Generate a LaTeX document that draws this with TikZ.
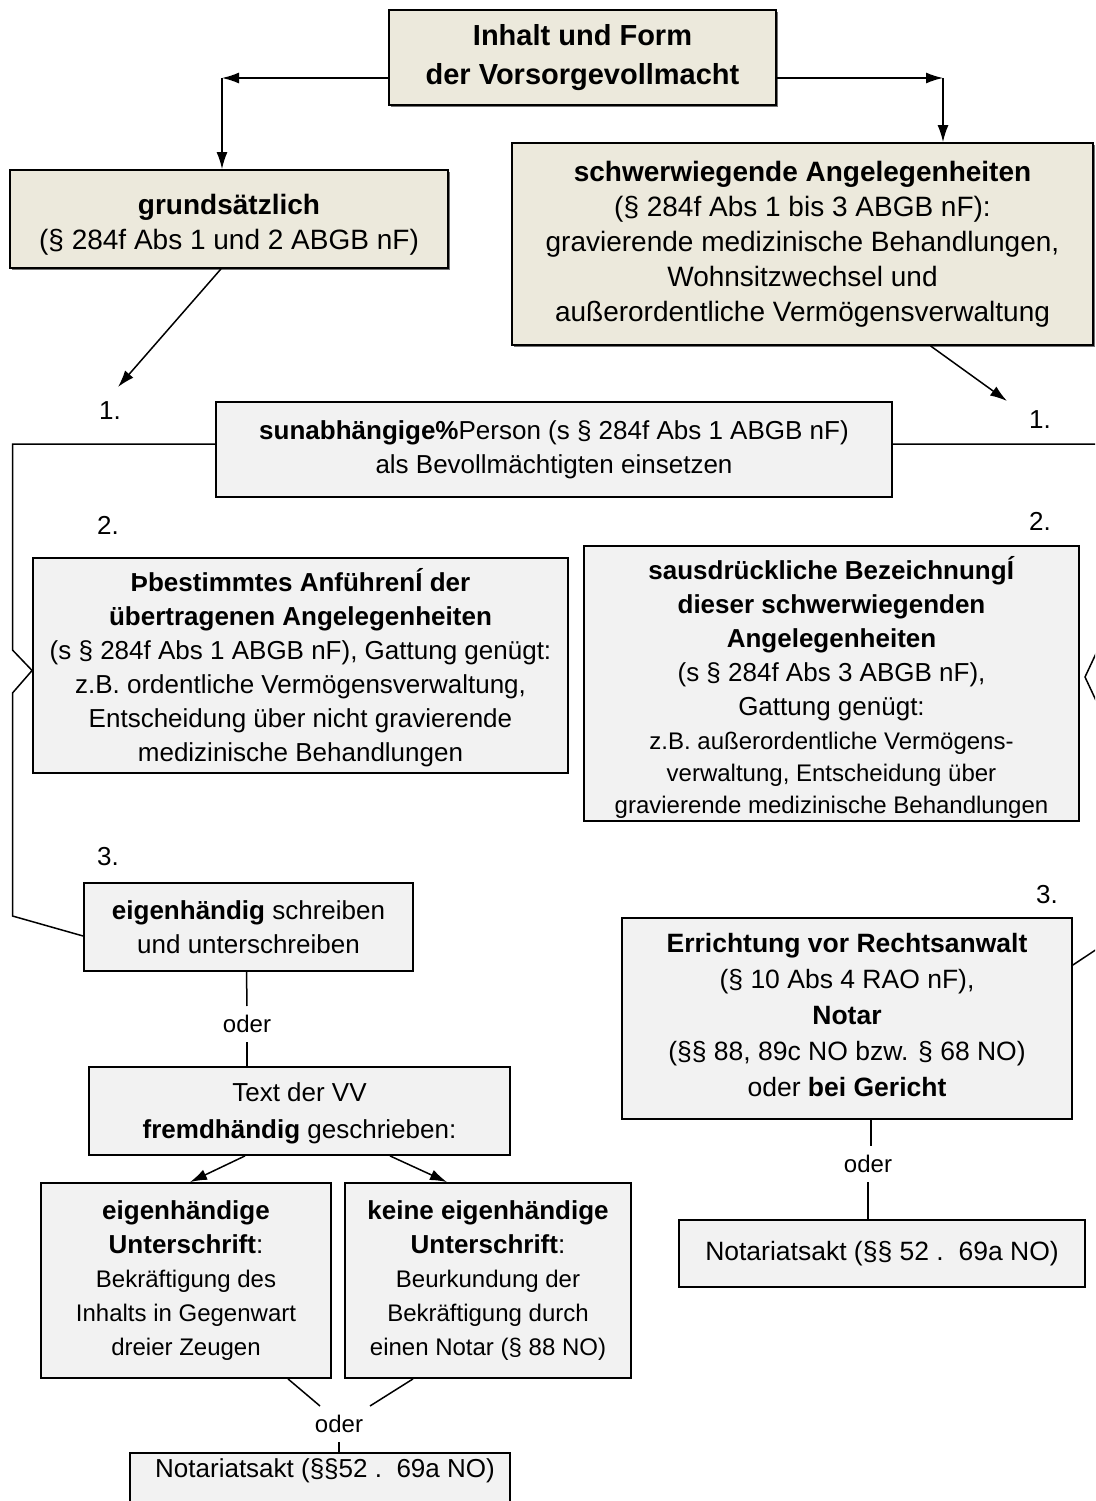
\documentclass[tikz,border=0pt]{standalone}
\usepackage{fontspec}
\setmainfont{Liberation Sans}
\usetikzlibrary{arrows.meta,shadows}
\definecolor{beige}{HTML}{ECE9DC}
\definecolor{lgray}{HTML}{F2F2F2}
\newcommand{\fsBeige}{\fontsize{28}{35}\selectfont}
\newcommand{\fsTop}{\fontsize{29}{39}\selectfont}
\newcommand{\fsGray}{\fontsize{26}{34}\selectfont}
\newcommand{\fsAus}{\fontsize{26}{32}\selectfont}
\newcommand{\fsErr}{\fontsize{26.5}{36}\selectfont}
\newcommand{\fsSmall}{\fontsize{24}{32}\selectfont}
\newcommand{\fsMid}{\fontsize{24}{32}\selectfont}
\begin{document}
\begin{tikzpicture}[x=1pt,y=-1pt,
  box/.style={draw=black, line width=1.8pt, align=center, inner sep=0pt},
  beigebox/.style={box, fill=beige, drop shadow={shadow xshift=1.5pt, shadow yshift=-2pt, fill=black!55, opacity=1}},
  graybox/.style={box, fill=lgray},
  txt/.style={align=center, inner sep=0pt},
  conn/.style={line width=1.5pt},
  arr/.style={conn, -{Latex[length=17pt,width=11pt]}},
  lbl/.style={font=\fsGray, inner sep=0pt},
  odr/.style={font=\fsSmall, inner sep=9pt}
]
\fill[white] (0,0) rectangle (1095,1501);
\clip (0,0) rectangle (1095,1501);

% boxes
\node[beigebox, minimum width=387, minimum height=95, font=\fsTop] (top) at (582.5,57.5)
  {\textbf{Inhalt und Form}\\\textbf{der Vorsorgevollmacht}};
\node[beigebox, minimum width=438, minimum height=98] (grund) at (229,219) {};
\node[txt, font=\fsBeige] (grundT) at (229,225)
  {\textbf{grundsätzlich}\\(§ 284f Abs 1 und 2 ABGB nF)};
\node[beigebox, minimum width=581, minimum height=202, font=\fsBeige] (schwer) at (802.5,244)
  {\textbf{schwerwiegende Angelegenheiten}\\(§ 284f Abs 1 bis 3 ABGB nF):\\gravierende medizinische Behandlungen,\\Wohnsitzwechsel und\\außerordentliche Vermögensverwaltung};
\node[graybox, minimum width=676, minimum height=95, font=\fsGray] (unab) at (554,449.5)
  {\textbf{sunabhängige\%}Person (s § 284f Abs 1 ABGB nF)\\als Bevollmächtigten einsetzen};
\node[graybox, minimum width=535, minimum height=215] (best) at (300.5,665.5) {};
\node[txt, font=\fsGray] (bestT) at (300.5,668)
  {\textbf{Þbestimmtes AnführenÍ der}\\\textbf{übertragenen Angelegenheiten}\\(s § 284f Abs 1 ABGB nF), Gattung genügt:\\z.B. ordentliche Vermögensverwaltung,\\Entscheidung über nicht gravierende\\medizinische Behandlungen};
\node[graybox, minimum width=495, minimum height=275] (ausdr) at (831.5,683.5) {};
\node[txt, font=\fsAus] (ausdrT) at (831.5,687)
  {\textbf{sausdrückliche BezeichnungÍ}\\[2pt]\textbf{dieser schwerwiegenden}\\[2pt]\textbf{Angelegenheiten}\\[2pt](s § 284f Abs 3 ABGB nF),\\[2pt]Gattung genügt:\\[2pt]\fsMid z.B. außerordentliche Vermögens-\\\fsMid verwaltung, Entscheidung über\\\fsMid gravierende medizinische Behandlungen};
\node[graybox, minimum width=329, minimum height=88, font=\fsGray] (eigen) at (248.5,927)
  {\textbf{eigenhändig} schreiben\\und unterschreiben};
\node[graybox, minimum width=421, minimum height=88, font=\fsGray, text depth=0pt] (text) at (299.5,1111)
  {Text der VV\\[3pt]\textbf{fremdhändig} geschrieben:};
\node[graybox, minimum width=290, minimum height=195, font=\fsGray] (eu) at (186,1280.5)
  {\textbf{eigenhändige}\\\textbf{Unterschrift}:\\\fsSmall Bekräftigung des\\\fsSmall Inhalts in Gegenwart\\\fsSmall dreier Zeugen};
\node[graybox, minimum width=286, minimum height=195, font=\fsGray] (keine) at (488,1280.5)
  {\textbf{keine eigenhändige}\\\textbf{Unterschrift}:\\\fsSmall Beurkundung der\\\fsSmall Bekräftigung durch\\\fsSmall einen Notar (§ 88 NO)};
\node[graybox, minimum width=380, minimum height=80, anchor=north] (notarA) at (320,1452) {};
\node[font=\fsGray, inner sep=0pt] (notarAtxt) at (325,1471) {Notariatsakt (§§52 .\ \ 69a NO)};
\node[graybox, minimum width=450, minimum height=201] (errich) at (847,1018.5) {};
\node[txt, font=\fsErr] (errichT) at (847,1015.5)
  {\textbf{Errichtung vor Rechtsanwalt}\\(§ 10 Abs 4 RAO nF),\\\textbf{Notar}\\(§§ 88, 89c NO bzw. § 68 NO)\\oder \textbf{bei Gericht}};
\node[graybox, minimum width=406, minimum height=67, font=\fontsize{26.5}{34}\selectfont] (notarB) at (882,1253.5)
  {Notariatsakt (§§ 52 .\ \ 69a NO)};

% labels
\node[lbl] (l1) at (110,411) {1.};
\node[lbl] (l2) at (108,525) {2.};
\node[lbl] (l3) at (108,857) {3.};
\node[lbl] (r1) at (1040,420) {1.};
\node[lbl] (r2) at (1040,521) {2.};
\node[lbl] (r3) at (1047,895) {3.};

% oder labels
\node[odr] (o1) at (247,1024) {oder};
\node[odr] (o2) at (339,1424) {oder};
\node[odr] (o3) at (868,1164) {oder};

% coordinates
\coordinate (cl) at (222,78);
\coordinate (cr) at (943,78);
\coordinate (a1) at (118,387);
\coordinate (a2) at (1007,401);

% top arrows
\draw[arr] (top.west |- cl) -- (cl);
\draw[arr] (cl) -- (cl |- grund.north);
\draw[arr] (top.east |- cr) -- (cr);
\draw[arr] (cr) -- (cr |- schwer.north);
\draw[arr] ([xshift=-8pt]grund.south) -- (a1);
\draw[arr] ([xshift=128pt]schwer.south) -- (a2);

% brackets
\draw[conn] ([yshift=5.5pt]unab.west) -- (12.5,444) -- (12.5,650) -- ([yshift=-5pt]best.west)
  -- (12.5,693) -- (12.5,916) -- ([yshift=-9pt]eigen.west);
\draw[conn] ([yshift=5.5pt]unab.east) -- (1100,444) -- (1100,645) -- (1085,677) -- (1100,709)
  -- (1100,947) -- ([yshift=53.5pt]errich.east);

% left lower chain
\draw[conn] ([xshift=-2pt]eigen.south) -- (o1.north);
\draw[conn] (o1.south) -- (o1.south |- text.north);
\draw[arr] ([xshift=-54.5pt]text.south) -- ([xshift=4pt]eu.north);
\draw[arr] ([xshift=90.5pt]text.south) -- ([xshift=-41pt]keine.north);
\draw[conn] ([xshift=102pt]eu.south) -- ([xshift=-19pt]o2.north);
\draw[conn] ([xshift=-75pt]keine.south) -- ([xshift=31pt]o2.north);
\draw[conn] (o2.south) -- (o2.south |- notarA.north);

% right lower chain
\draw[conn] ([xshift=24pt]errich.south) -- ([xshift=3pt]o3.north);
\draw[conn] (o3.south) -- (o3.south |- notarB.north);
\end{tikzpicture}
\end{document}
